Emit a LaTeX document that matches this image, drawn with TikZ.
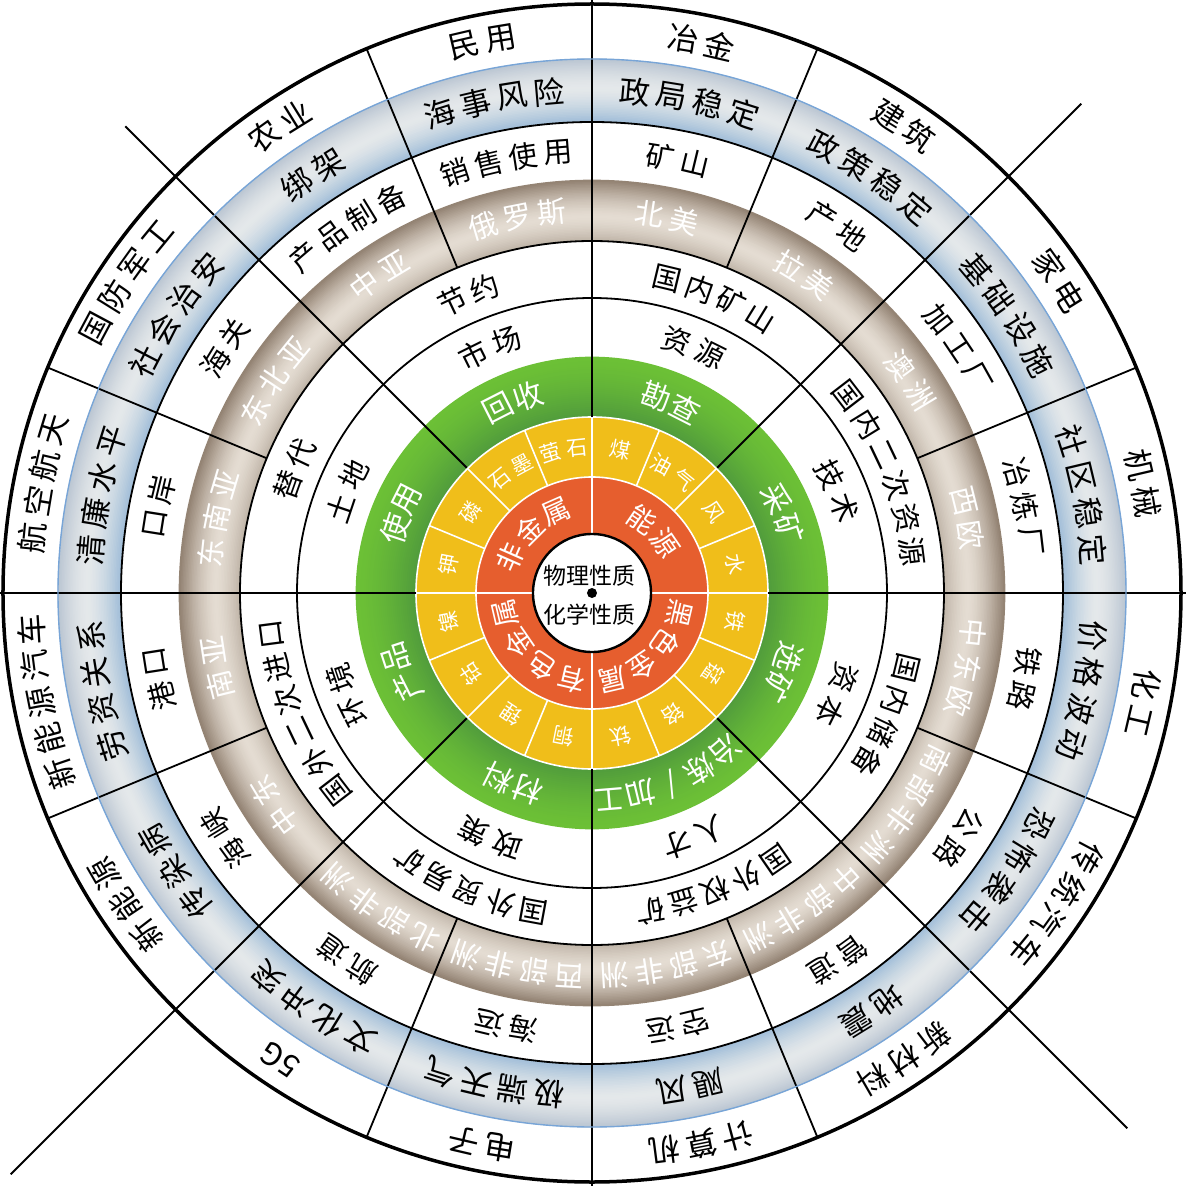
\documentclass[tikz,border=0pt]{standalone}
\usepackage{fontspec}
\newfontfamily\cjk{Noto Sans CJK SC}
\definecolor{redc}{RGB}{230,94,46}
\definecolor{yelc}{RGB}{240,190,26}
\definecolor{grin}{RGB}{80,155,60}
\definecolor{grout}{RGB}{108,192,54}
\definecolor{brin}{RGB}{190,179,166}
\definecolor{brpk}{RGB}{228,220,210}
\definecolor{brout}{RGB}{145,128,112}
\definecolor{blin}{RGB}{158,188,216}
\definecolor{blpk}{RGB}{228,232,234}
\definecolor{blout}{RGB}{186,197,210}
\definecolor{bledge}{RGB}{120,165,215}
\newcommand{\cfs}[1]{\cjk\fontsize{#1}{#1}\selectfont}
% gradient ring: rin, rout, N, inner colour, peak colour, outer colour, peak position
\newcommand{\gradring}[7]{%
  \foreach \gi in {1,...,#3} {
    \pgfmathsetmacro\gt{(\gi-0.5)/#3}
    \pgfmathsetmacro\gr{#1+\gt*(#2-#1)}
    \pgfmathsetmacro\gw{(#2-#1)/#3+0.7}
    \pgfmathsetmacro\gd{abs(\gt-#7)/ifthenelse(\gt<#7,#7,1-#7)}
    \pgfmathtruncatemacro\gp{100*\gd^1.5}
    \ifdim\gt pt<#7pt
      \draw[line width=\gw, color=#4!\gp!#5] (0,0) circle (\gr);
    \else
      \draw[line width=\gw, color=#6!\gp!#5] (0,0) circle (\gr);
    \fi
  }
}
% text along a ring: radius, centre angle, step (px), style, list macro, name prefix
\newcommand{\ringtext}[6]{%
  \foreach \tchar [count=\tn] in #5 {\xdef\tnum{\tn}}
  \pgfmathsetmacro\tstep{deg(#3/#1)}
  \foreach \tchar [count=\tn] in #5 {
    \pgfmathsetmacro\tang{#2+((\tnum+1)/2-\tn)*\tstep}
    \node[#4, rotate=\tang-90, name=#6-\tn] at (\tang:#1) {\tchar};
  }
}
\begin{document}
\begin{tikzpicture}[x=1pt,y=1pt,
  blk/.style={line width=1.8pt, black},
  wln/.style={line width=1.6pt, white},
  tb/.style={font=\cfs{#1}, text=black, inner sep=0pt},
  tw/.style={font=\cfs{#1}, text=white, inner sep=0pt}]
\useasboundingbox (-592,-593) rectangle (594,593);
\fill[white] (-592,-593) rectangle (594,593);

% coloured rings
\gradring{471}{534}{40}{blin}{blpk}{blout}{0.55}
\gradring{352}{413}{40}{brin}{brpk}{brout}{0.4}
\gradring{176}{236}{30}{grin}{grout}{grout}{0.999}
\fill[yelc] (0,0) circle (176);
\fill[redc] (0,0) circle (116);
\fill[white] (0,0) circle (59);

% white dividers in inner rings
\foreach \a in {0,90,180,270} \draw[wln] (\a:59) -- (\a:176);
\foreach \i in {0,...,15} \draw[wln] (\i*22.5:116) -- (\i*22.5:176);
\draw[wln] (0,0) circle (116);
\draw[wln] (0,0) circle (176);

% black lines
\foreach \a in {0,90,180,270} \draw[blk] (\a:176) -- (\a:600);
\draw[blk] (45:177) -- (45:692);
\draw[blk] (135:177) -- (135:660);
\draw[blk] (225:177) -- (225:822);
\draw[blk] (315:177) -- (315:757);
\foreach \a in {22.5,67.5,112.5,157.5,202.5,247.5,292.5,337.5} \draw[blk] (\a:352) -- (\a:589);
\draw[blk] (0,0) circle (295);
\draw[blk] (0,0) circle (352);
\draw[blk] (0,0) circle (471);
\draw[line width=1.4pt, bledge] (0,0) circle (534);
\draw[line width=3.5pt, black] (0,0) circle (589);
\draw[line width=2.4pt, black] (0,0) circle (59);

% outer ring
\foreach \k/\txt in {0/{冶,金},1/{建,筑},2/{家,电},3/{机,械},4/{化,工},5/{传,统,汽,车},6/{新,材,料},7/{计,算,机},8/{电,子},9/{5G},10/{新,能,源},11/{新,能,源,汽,车},12/{航,空,航,天},13/{国,防,军,工},14/{农,业},15/{民,用}}
  {\ringtext{562}{78.75-22.5*\k}{37}{tb=31}{\txt}{o\k}}
% blue ring
\foreach \k/\txt in {0/{政,局,稳,定},1/{政,策,稳,定},2/{基,础,设,施},3/{社,区,稳,定},4/{价,格,波,动},5/{恐,怖,袭,击},6/{地,震},7/{飓,风},8/{极,端,天,气},9/{文,化,冲,突},10/{传,染,病},11/{劳,资,关,系},12/{清,廉,水,平},13/{社,会,治,安},14/{绑,架},15/{海,事,风,险}}
  {\ringtext{503}{78.75-22.5*\k}{37}{tb=31}{\txt}{b\k}}
% white ring between brown and blue
\foreach \k/\txt in {0/{矿,山},1/{产,地},2/{加,工,厂},3/{冶,炼,厂},4/{铁,路},5/{公,路},6/{管,道},7/{空,运},8/{海,运},9/{航,道},10/{海,峡},11/{港,口},12/{口,岸},13/{海,关},14/{产,品,制,备},15/{销,售,使,用}}
  {\ringtext{442}{78.75-22.5*\k}{35}{tb=29}{\txt}{w\k}}
% brown ring
\foreach \k/\txt in {0/{北,美},1/{拉,美},2/{澳,洲},3/{西,欧},4/{中,东,欧},5/{南,部,非,洲},6/{中,部,非,洲},7/{东,部,非,洲},8/{西,部,非,洲},9/{北,部,非,洲},10/{中,东},11/{南,亚},12/{东,南,亚},13/{东,北,亚},14/{中,亚},15/{俄,罗,斯}}
  {\ringtext{383}{78.75-22.5*\k}{35}{tw=29}{\txt}{r\k}}
% second white ring
\foreach \k/\txt in {0/{国,内,矿,山},1/{国,内,二,次,资,源},2/{国,内,储,备},3/{国,外,权,益,矿},4/{国,外,贸,易,矿},5/{国,外,二,次,进,口},6/{替,代},7/{节,约}}
  {\ringtext{323}{67.5-45*\k}{34}{tb=29}{\txt}{s\k}}
% first white ring
\foreach \k/\txt in {0/{资,源},1/{技,术},2/{资,本},3/{人,才},4/{政,策},5/{环,境},6/{土,地},7/{市,场}}
  {\ringtext{266}{67.5-45*\k}{36}{tb=29}{\txt}{f\k}}
% green ring
\foreach \k/\txt in {0/{勘,查},1/{采,矿},2/{选,矿},3/{冶,炼,/,加,工},4/{材,料},5/{产,品},6/{使,用},7/{回,收}}
  {\ringtext{207}{67.5-45*\k}{32}{tw=30}{\txt}{g\k}}
% yellow ring
\foreach \k/\txt in {0/{煤},1/{油,气},2/{风},3/{水},4/{铁},5/{锰},6/{铬},7/{钛},8/{铜},9/{锂},10/{钴},11/{镍},12/{钾},13/{磷},14/{石,墨},15/{萤,石}}
  {\ringtext{146}{78.75-22.5*\k}{27}{tw=21}{\txt}{y\k}}
% red ring
\foreach \k/\txt in {0/{能,源},1/{黑,色,金,属},2/{有,色,金,属},3/{非,金,属}}
  {\ringtext{89}{45-90*\k}{33}{tw=28}{\txt}{e\k}}

% centre
\node[tb=23] (phys) at (-2,17) {物理性质};
\node[tb=23] (chem) at (-2,-22) {化学性质};
\fill[black] (0,0) circle (5);
\end{tikzpicture}
\end{document}
